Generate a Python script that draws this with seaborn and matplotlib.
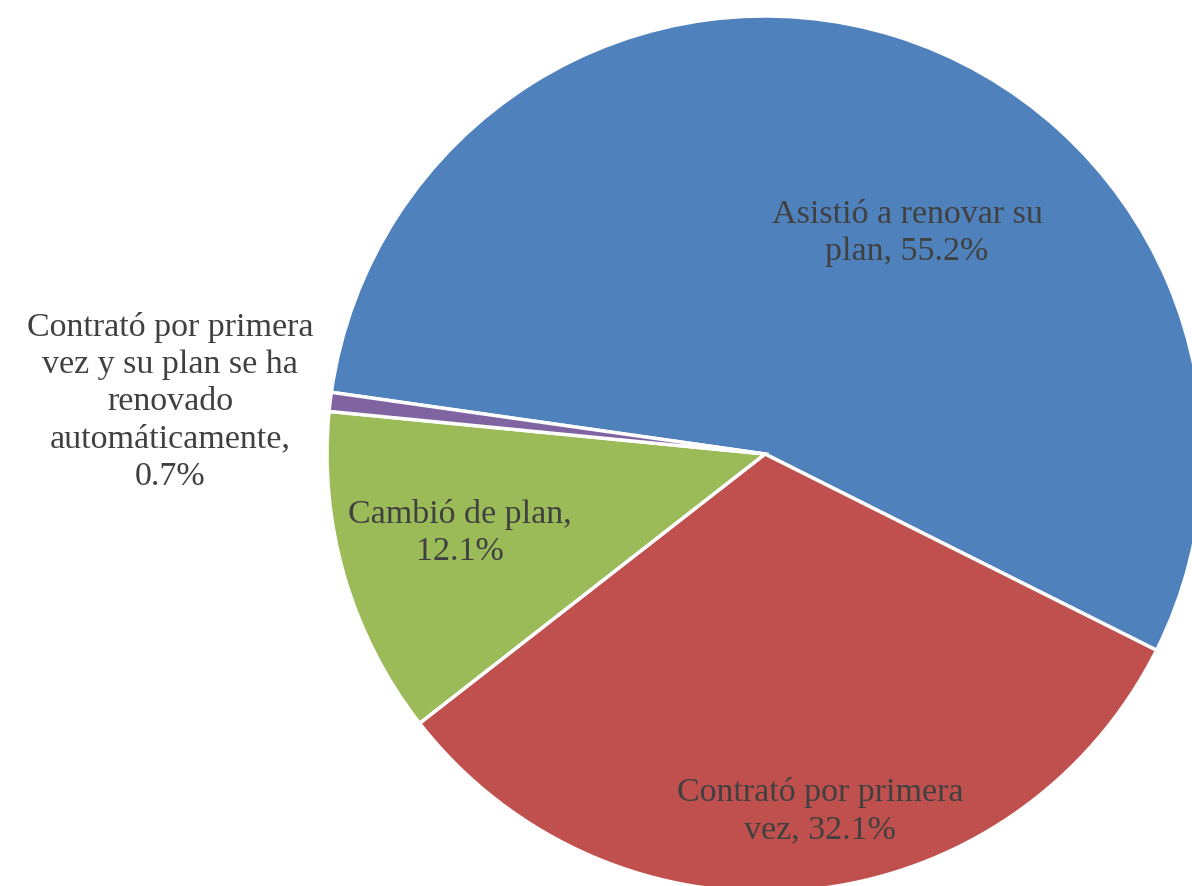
import matplotlib
matplotlib.use("Agg")
import matplotlib.pyplot as plt
import numpy as np
import seaborn as sns

labels = ["Asistió a renovar su\nplan, 55.2%",
          "Contrató por primera\nvez, 32.1%",
          "Cambió de plan,\n12.1%",
          "Contrató por primera\nvez y su plan se ha\nrenovado\nautomáticamente,\n0.7%"]
values = [55.2, 32.1, 12.1, 0.7]
colors = ["#4F81BD", "#C0504D", "#9BBB59", "#8064A2"]

sns.set_theme(style="white")
plt.rcParams['font.family'] = ['Liberation Serif', 'DejaVu Serif']

fig = plt.figure(figsize=(11.92, 8.87), dpi=100)
ax = fig.add_axes([0, 0, 1, 1])
ax.axis("off")

wedges, _ = ax.pie(values, colors=colors, startangle=171.9, counterclock=False,
                   center=(765, 432), radius=438,
                   wedgeprops=dict(edgecolor="white", linewidth=2.5))
ax.set_xlim(0, 1192)
ax.set_ylim(0, 887)
ax.set_aspect("equal")

# label spots (pixels, y from top)
spots = [(907, 233), (820, 811), (460, 533), (170, 402)]
for txt, (x, y) in zip(labels, spots):
    ax.text(x, 887 - y, txt, ha="center", va="center", fontsize=24.5,
            color="#404040", linespacing=1.28)

fig.savefig("out.png", dpi=100)
